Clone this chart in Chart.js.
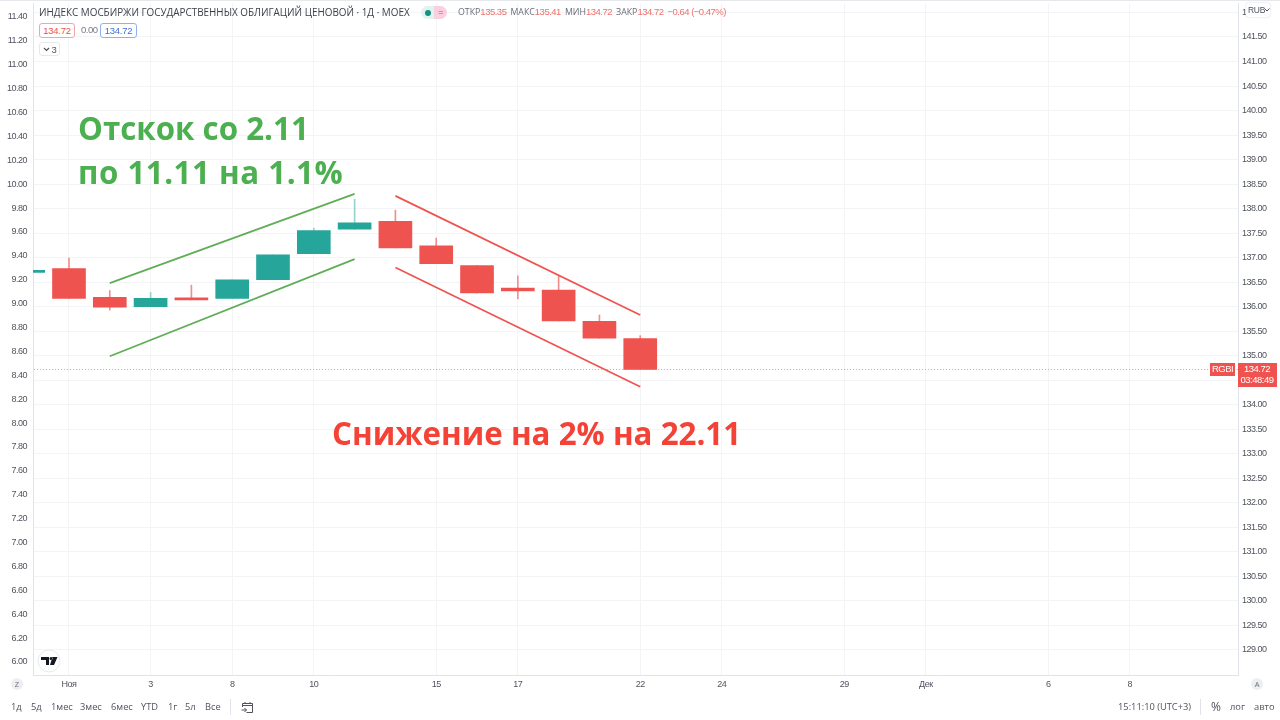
<!DOCTYPE html>
<html lang="ru">
<head>
<meta charset="utf-8">
<title>RGBI</title>
<script src="https://cdn.jsdelivr.net/npm/chart.js@4/dist/chart.umd.min.js"></script>
<style>
  html, body { margin: 0; padding: 0; background: #fff; }
  #wrap { position: relative; width: 1280px; height: 720px; overflow: hidden; font-family: "Open Sans", sans-serif; color: #4a4e59; }
  canvas { position: absolute; left: 0; top: 0; }
  .t { position: absolute; white-space: nowrap; font-size: 9.9px; line-height: 14px; }
  .num { font-family: "Liberation Sans", sans-serif; font-size: 9.5px; letter-spacing: -0.5px; margin-right: 4px; }
  .box { position: absolute; box-sizing: border-box; border-radius: 3px; text-align: center; white-space: nowrap; font-family: "Liberation Sans", sans-serif; font-size: 9.5px; letter-spacing: -0.3px; line-height: 13px; background: #fff; }
  .note { position: absolute; white-space: nowrap; font-family: "Open Sans", sans-serif; font-weight: 700; font-size: 31.3px; line-height: 44px; }
  .tool { position: absolute; top: 700px; font-size: 9.3px; line-height: 14px; color: #50535e; white-space: nowrap; }
  .round { position: absolute; width: 12px; height: 12px; border-radius: 50%; background: #eceef2; text-align: center; font-size: 7.5px; line-height: 12px; color: #6a6d78; }
  .red { color: #f0706c; }
</style>
</head>
<body>
<div id="wrap">
  <canvas id="chart" width="1280" height="720"></canvas>
  <div style="position:absolute;left:0;top:0;width:1280px;height:1px;background:#e6e8ec"></div>

  <div class="t" style="left:39px;top:5px;color:#3c3f49">ИНДЕКС МОСБИРЖИ ГОСУДАРСТВЕННЫХ ОБЛИГАЦИЙ ЦЕНОВОЙ · 1Д · MOEX</div>
  <div style="position:absolute;left:421px;top:6px;width:13px;height:13px;border-radius:7px 0 0 7px;background:#dff3f0"></div>
  <div style="position:absolute;left:434px;top:6px;width:13px;height:13px;border-radius:0 7px 7px 0;background:#fbd0de"></div>
  <div style="position:absolute;left:425px;top:10px;width:6px;height:6px;border-radius:50%;background:#17907f"></div>
  <div class="t" style="left:438px;top:5px;color:#e0457b">=</div>
  <div class="t" style="left:458px;top:5px;font-size:8.8px;color:#6a6d78">ОТКР<span class="red num" id="vOpen"></span>МАКС<span class="red num" id="vHigh"></span>МИН<span class="red num" id="vLow"></span>ЗАКР<span class="red num" id="vClose"></span><span class="red num">−0.64 (−0.47%)</span></div>

  <div class="box" style="left:39px;top:23px;width:36px;height:15px;border:1px solid #f2a5a3;color:#ef5350" id="vBid"></div>
  <div class="t num" style="left:81px;top:23px;font-size:9.5px;color:#787b86">0.00</div>
  <div class="box" style="left:100px;top:23px;width:37px;height:15px;border:1px solid #8fb0f0;color:#3f72d8" id="vAsk"></div>
  <div class="box" style="left:39px;top:42px;width:21px;height:14px;border:1px solid #e6e8ec;color:#50535e;padding-left:9px">3</div>
  <svg style="position:absolute;left:43px;top:47px" width="7" height="5" fill="none" stroke="#50535e" stroke-width="1.2"><path d="M1 1l2.5 2.5L6 1"/></svg>

  <div class="note" style="left:78px;top:106px;color:#4caf50">Отскок со 2.11</div>
  <div class="note" style="left:78px;top:150px;color:#4caf50;letter-spacing:0.5px">по 11.11 на 1.1%</div>
  <div class="note" style="left:332px;top:411px;color:#f44336">Снижение на 2% на 22.11</div>

  <div class="box" style="left:1246px;top:3px;width:24px;height:14px;font-size:8.5px;line-height:14px;color:#50535e;box-shadow:0 0 2px #ccd;text-align:left;padding-left:2px">RUB</div>
  <svg style="position:absolute;left:1264px;top:8px" width="6" height="4" fill="none" stroke="#50535e"><path d="M0.5 0.5l2.5 2.5l2.5-2.5"/></svg>

  <svg style="position:absolute;left:37px;top:649px" width="24" height="24">
    <circle cx="12" cy="12" r="11" fill="#fff" stroke="#e8e9ed"/>
    <path d="M4 8h8v8h-3v-5h-5z M15.5 8h5l-3.5 8h-4z M12.5 9.5a1.5 1.5 0 1 0 3 0a1.5 1.5 0 1 0 -3 0z" fill="#131722"/>
  </svg>

  <div class="round" style="left:11px;top:678px">Z</div>
  <div class="round" style="left:1251px;top:678px">A</div>

  <div class="tool" style="left:11px">1д</div>
  <div class="tool" style="left:31px">5д</div>
  <div class="tool" style="left:51px">1мес</div>
  <div class="tool" style="left:80px">3мес</div>
  <div class="tool" style="left:111px">6мес</div>
  <div class="tool" style="left:141px">YTD</div>
  <div class="tool" style="left:168px">1г</div>
  <div class="tool" style="left:185px">5л</div>
  <div class="tool" style="left:205px">Все</div>
  <div style="position:absolute;left:230px;top:699px;width:1px;height:16px;background:#e0e3eb"></div>
  <svg style="position:absolute;left:241px;top:701px" width="13" height="13" fill="none" stroke="#50535e">
    <path d="M1.5 6V2.5h10v9h-6M1.5 4.5h10M4 1v2M9 1v2M0.5 9h5M3.5 7l2 2l-2 2"/>
  </svg>
  <div class="tool" style="left:1118px">15:11:10 (UTC+3)</div>
  <div style="position:absolute;left:1200px;top:699px;width:1px;height:16px;background:#e0e3eb"></div>
  <div class="tool" style="left:1211px;font-size:12px">%</div>
  <div class="tool" style="left:1230px">лог</div>
  <div class="tool" style="left:1254px">авто</div>
</div>

<script>
// Candles, index 0 is the 1 Nov session, -1 is the one cut off by the axis
var sessions = [-1, 0, 1, 2, 3, 4, 5, 6, 7, 8, 9, 10, 11, 12, 13, 14];
var opens  = [136.70, 136.78, 136.19, 136.00, 136.18, 136.17, 136.55, 137.08, 137.58, 137.74, 137.24, 136.84, 136.38, 136.34, 135.70, 135.35];
var highs  = [136.74, 136.99, 136.33, 136.29, 136.44, 136.55, 137.06, 137.60, 138.19, 137.97, 137.40, 136.84, 136.63, 136.63, 135.83, 135.41];
var lows   = [136.70, 136.17, 135.93, 136.00, 136.14, 136.17, 136.55, 137.08, 137.58, 137.20, 136.88, 136.28, 136.16, 135.71, 135.36, 134.72];
var closes = [136.74, 136.17, 135.99, 136.17, 136.14, 136.55, 137.06, 137.55, 137.71, 137.20, 136.88, 136.28, 136.32, 135.71, 135.36, 134.72];

// Drawn channels
var greenUpper = [{ x: 1, y: 136.48 }, { x: 7, y: 138.30 }];
var greenLower = [{ x: 1, y: 134.99 }, { x: 7, y: 136.97 }];
var redUpper = [{ x: 8, y: 138.26 }, { x: 14, y: 135.83 }];
var redLower = [{ x: 8, y: 136.80 }, { x: 14, y: 134.37 }];

var xTickSessions = [0, 2, 4, 6, 9, 11, 14, 16, 19, 21, 24, 26];
var xTickLabels = ['Ноя', '3', '8', '10', '15', '17', '22', '24', '29', 'Дек', '6', '8'];
var rightTicks = [129, 129.5, 130, 130.5, 131, 131.5, 132, 132.5, 133, 133.5, 134, 134.5, 135, 135.5, 136, 136.5, 137, 137.5, 138, 138.5, 139, 139.5, 140, 140.5, 141, 141.5, 142];
var leftTicks = [6, 6.2, 6.4, 6.6, 6.8, 7, 7.2, 7.4, 7.6, 7.8, 8, 8.2, 8.4, 8.6, 8.8, 9, 9.2, 9.4, 9.6, 9.8, 10, 10.2, 10.4, 10.6, 10.8, 11, 11.2, 11.4];
var countdown = '03:48:49';
var tickerName = 'RGBI';

(function () {
  'use strict'

  var UP = '#26a69a';
  var DOWN = '#ef5350';
  var UP_WICK = '#93d3cc';
  var DOWN_WICK = '#f28f8c';
  var SANS = '"Liberation Sans", sans-serif';
  var AXIS_FONT = { family: SANS, size: 9 };

  var last = sessions.length - 1;
  var lastClose = closes[last];

  document.getElementById('vOpen').textContent = opens[last].toFixed(2);
  document.getElementById('vHigh').textContent = highs[last].toFixed(2);
  document.getElementById('vLow').textContent = lows[last].toFixed(2);
  document.getElementById('vClose').textContent = lastClose.toFixed(2);
  document.getElementById('vBid').textContent = lastClose.toFixed(2);
  document.getElementById('vAsk').textContent = lastClose.toFixed(2);

  function isUp(i) { return closes[i] >= opens[i]; }

  var bodies = sessions.map(function (s, i) { return { x: s, y: [opens[i], closes[i]] }; });
  var wicks = sessions.map(function (s, i) { return { x: s, y: [lows[i], highs[i]] }; });

  function channel(points, color) {
    return {
      type: 'line', data: points, xAxisID: 'x', yAxisID: 'y',
      borderColor: color, borderWidth: 1.7, pointRadius: 0, fill: false, order: 0
    };
  }

  // no extra margin for the first/last tick label, the plot area is fixed
  function noLabelMargins(s) {
    s.paddingTop = 0;
    s.paddingBottom = 0;
    s.paddingLeft = 0;
    s.paddingRight = 0;
  }

  // axis text in the reference is set tighter than any installed font
  var tightText = {
    id: 'tightText',
    beforeDraw: function (chart) { chart.ctx.letterSpacing = '-0.5px'; }
  };

  // last price tag on the axis + ticker label, follows the y scale
  var priceTag = {
    id: 'priceTag',
    afterDraw: function (chart) {
      var c = chart.ctx;
      var y = Math.round(chart.scales.y.getPixelForValue(lastClose));
      var right = chart.chartArea.right;
      c.save();
      c.fillStyle = DOWN;
      c.fillRect(right - 28, y - 6, 25, 13);
      c.fillRect(right, y - 6, 39, 24);
      c.fillStyle = '#fff';
      c.font = '9.5px ' + SANS;
      c.textBaseline = 'middle';
      c.textAlign = 'center';
      c.fillText(tickerName, right - 15.5, y + 0.5);
      c.fillText(lastClose.toFixed(2), right + 19, y + 0.5);
      c.fillText(countdown, right + 19, y + 11);
      c.restore();
    }
  };

  new Chart(document.getElementById('chart'), {
    type: 'bar',
    data: {
      datasets: [
        {
          data: bodies, xAxisID: 'x', yAxisID: 'y', barThickness: 33, grouped: false, order: 1,
          backgroundColor: function (ctx) { return isUp(ctx.dataIndex) ? UP : DOWN; }
        },
        {
          data: wicks, xAxisID: 'x', yAxisID: 'y', barThickness: 1, grouped: false, order: 2,
          backgroundColor: function (ctx) { return isUp(ctx.dataIndex) ? UP_WICK : DOWN_WICK; }
        },
        channel(greenUpper, '#5fad56'),
        channel(greenLower, '#5fad56'),
        channel(redUpper, '#ef5350'),
        channel(redLower, '#ef5350'),
        {
          // dotted last price line
          type: 'line', xAxisID: 'x', yAxisID: 'y', order: 3,
          data: [{ x: -1, y: lastClose }, { x: 29, y: lastClose }],
          borderColor: '#f28f8c', borderWidth: 1, borderDash: [1, 2], pointRadius: 0
        }
      ]
    },
    options: {
      responsive: false,
      animation: false,
      layout: { padding: { top: 3, bottom: 26, left: 0, right: 0 } },
      plugins: { legend: { display: false }, tooltip: { enabled: false } },
      scales: {
        x: {
          type: 'linear', position: 'bottom', offset: false,
          min: -0.882, max: 28.65,
          afterFit: function (s) { s.height = 19; noLabelMargins(s); },
          afterBuildTicks: function (s) { s.ticks = xTickSessions.map(function (v) { return { value: v }; }); },
          grid: { offset: false, color: '#f3f4f6', drawTicks: false },
          border: { display: true, color: '#e0e3eb' },
          ticks: {
            autoSkip: false, maxRotation: 0, padding: 4, color: '#50535e', font: AXIS_FONT,
            callback: function (v) { return xTickLabels[xTickSessions.indexOf(v)]; }
          }
        },
        y: {
          type: 'linear', position: 'right',
          min: 128.49, max: 142.193,
          afterFit: function (s) { s.width = 42; noLabelMargins(s); },
          afterBuildTicks: function (s) { s.ticks = rightTicks.map(function (v) { return { value: v }; }); },
          grid: { color: '#f3f4f6', drawTicks: false },
          border: { display: true, color: '#e0e3eb' },
          ticks: {
            autoSkip: false, padding: 4, color: '#50535e', font: AXIS_FONT,
            callback: function (v) { return v.toFixed(2); }
          }
        },
        yLeft: {
          type: 'linear', position: 'left',
          min: 5.891, max: 11.517,
          afterFit: function (s) { s.width = 33; noLabelMargins(s); },
          afterBuildTicks: function (s) { s.ticks = leftTicks.map(function (v) { return { value: v }; }); },
          grid: { display: false, drawTicks: false },
          border: { display: true, color: '#e0e3eb' },
          ticks: {
            autoSkip: false, padding: 6, color: '#50535e', font: AXIS_FONT,
            callback: function (v) { return v.toFixed(2); }
          }
        }
      }
    },
    plugins: [tightText, priceTag]
  });
})()
</script>
</body>
</html>
